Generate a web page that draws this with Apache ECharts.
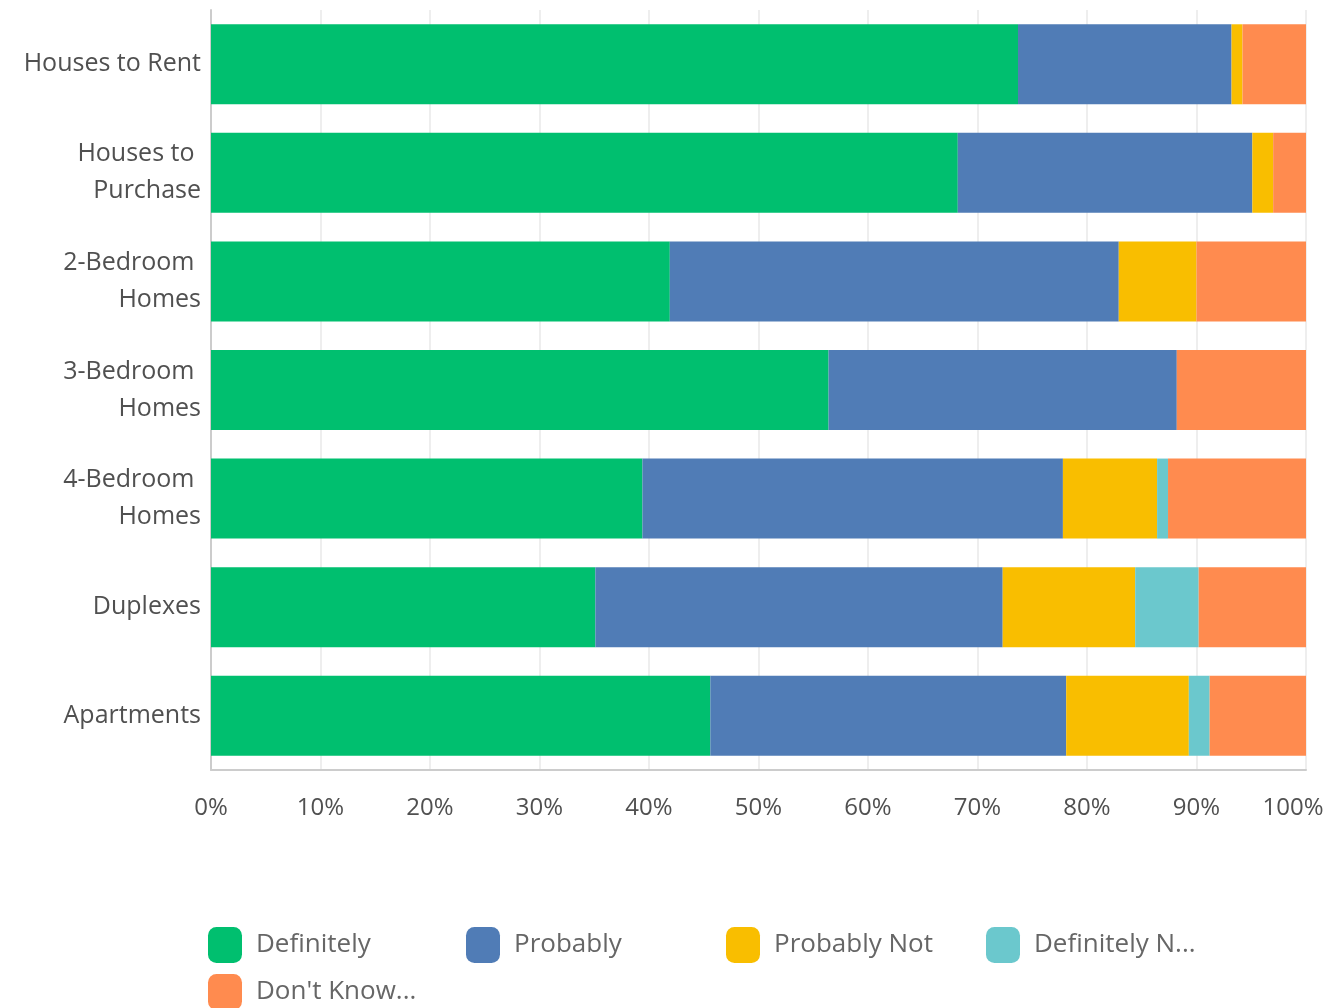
<!DOCTYPE html>
<html>
<head>
<meta charset="utf-8">
<script src="https://cdn.jsdelivr.net/npm/echarts@6/dist/echarts.min.js"></script>
<style>
  html, body { margin: 0; padding: 0; background: #fff; }
  #chart { width: 1331px; height: 1008px; }
</style>
</head>
<body>
<div id="chart"></div>
<script>
  const categories = ['Houses to Rent', 'Houses to Purchase', '2-Bedroom Homes', '3-Bedroom Homes', '4-Bedroom Homes', 'Duplexes', 'Apartments'];
  const definitely = [73.7, 68.2, 41.9, 56.4, 39.4, 35.1, 45.6];
  const probably = [19.5, 26.9, 41.0, 31.8, 38.4, 37.2, 32.5];
  const probablyNot = [1.0, 1.9, 7.1, 0, 8.6, 12.1, 11.2];
  const definitelyNot = [0, 0, 0, 0, 1.0, 5.8, 1.9];
  const dontKnow = [5.8, 3.0, 10.0, 11.8, 12.6, 9.8, 8.8];
  const xTicks = [0, 10, 20, 30, 40, 50, 60, 70, 80, 90, 100];
  // legend shows shortened names, like the original survey tool
  const legendLabels = ['Definitely', 'Probably', 'Probably Not', 'Definitely N...', "Don't Know..."];

  const font = 'Open Sans';
  const seriesDefs = [
    { name: 'Definitely', data: definitely, color: '#00BF6F' },
    { name: 'Probably', data: probably, color: '#507CB6' },
    { name: 'Probably Not', data: probablyNot, color: '#F9BE00' },
    { name: 'Definitely Not', data: definitelyNot, color: '#6BC8CD' },
    { name: "Don't Know / Not Sure", data: dontKnow, color: '#FF8B4F' },
  ];

  // one legend per item so they sit on a fixed 4-column grid
  const legendSpots = [[208, 927], [466, 927], [726, 927], [986, 927], [208, 974]];
  const legends = seriesDefs.map((s, i) => ({
    left: legendSpots[i][0],
    top: legendSpots[i][1],
    padding: 0,
    icon: 'roundRect',
    itemWidth: 34,
    itemHeight: 36,
    textStyle: {
      fontFamily: font,
      fontSize: 26,
      color: '#666',
      padding: [0, 0, 0, 9],
    },
    formatter: () => legendLabels[i],
    data: [s.name],
  }));

  let myChart = echarts.init(document.getElementById('chart'));
  myChart.setOption({
    backgroundColor: '#fff',
    animation: false,
    grid: { left: 211, right: 25, top: 10, bottom: 238, containLabel: false, outerBoundsMode: 'none' },
    legend: legends,
    xAxis: {
      type: 'value',
      min: xTicks[0],
      max: xTicks[xTicks.length - 1],
      interval: 10,
      axisLine: { show: true, lineStyle: { color: '#ccc', width: 2 } },
      axisTick: { show: false },
      splitLine: { show: true, lineStyle: { color: '#e8e8e8', width: 1.5 } },
      axisLabel: {
        // last label is pulled left so it stays inside the page
        formatter: v => v === xTicks[xTicks.length - 1] ? '{last|' + v + '%}' : v + '%',
        rich: { last: { padding: [0, 26, 0, 0], fontFamily: font, fontSize: 24, color: '#505050' } },
        fontFamily: font,
        fontSize: 24,
        color: '#505050',
        margin: 26,
      },
    },
    yAxis: {
      type: 'category',
      inverse: true,
      data: categories,
      axisLine: { show: true, lineStyle: { color: '#ccc', width: 2 } },
      axisTick: { show: false },
      axisLabel: {
        fontFamily: font,
        fontSize: 25,
        color: '#505050',
        margin: 10,
        width: 195,
        overflow: 'break',
        lineHeight: 37,
        align: 'right',
      },
    },
    series: seriesDefs.map(s => ({
      name: s.name,
      type: 'bar',
      stack: 'total',
      barWidth: 80,
      itemStyle: { color: s.color },
      data: s.data,
    })),
  });
</script>
</body>
</html>
